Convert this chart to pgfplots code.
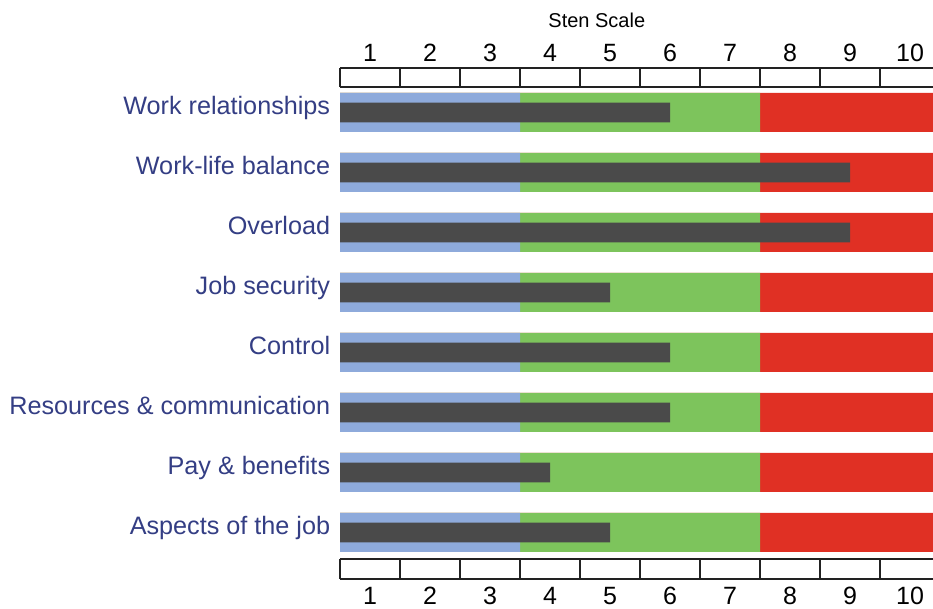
\documentclass[border=0pt]{standalone}
\usepackage{pgfplots}
\pgfplotsset{compat=1.18}
\usepackage{fontspec}
\setmainfont{Liberation Sans}
\definecolor{bandblue}{HTML}{8EAADB}
\definecolor{bandgreen}{HTML}{7DC45C}
\definecolor{bandred}{HTML}{E03024}
\definecolor{bardark}{HTML}{4A4A4A}
\definecolor{labblue}{HTML}{343E84}
\definecolor{rulecol}{HTML}{222222}
\begin{document}
\begin{tikzpicture}
\begin{axis}[
  name=ax,
  scale only axis,
  width=296.5pt, height=258pt,
  xmin=0.5, xmax=10.383,
  ymin=-0.78, ymax=7.82,
  y dir=reverse,
  clip mode=individual,
  axis line style={draw=none},
  tick style={draw=none},
  xtick={1,...,10},
  xticklabel pos=upper,
  xticklabel style={anchor=base, yshift=2pt, font=\fontsize{12.5}{14}\selectfont},
  ytick={0,...,7},
  yticklabels={Work relationships, Work-life balance, Overload, Job security, Control, Resources \& communication, Pay \& benefits, Aspects of the job},
  yticklabel style={anchor=base east, xshift=-1.4pt, yshift=-1.25pt, text=labblue, font=\fontsize{12.6}{14}\selectfont},
  /pgf/number format/assume math mode=true,
]
% background bands
\addplot[xbar, bar width=0.65, bar shift=0pt, fill=bandred, draw=none] coordinates {(10.5,0) (10.5,1) (10.5,2) (10.5,3) (10.5,4) (10.5,5) (10.5,6) (10.5,7)};
\addplot[xbar, bar width=0.65, bar shift=0pt, fill=bandgreen, draw=none] coordinates {(7.5,0) (7.5,1) (7.5,2) (7.5,3) (7.5,4) (7.5,5) (7.5,6) (7.5,7)};
\addplot[xbar, bar width=0.65, bar shift=0pt, fill=bandblue, draw=none] coordinates {(3.5,0) (3.5,1) (3.5,2) (3.5,3) (3.5,4) (3.5,5) (3.5,6) (3.5,7)};
% scores
\addplot[xbar, bar width=0.333, bar shift=0pt, fill=bardark, draw=none] coordinates {(6,0) (9,1) (9,2) (5,3) (6,4) (6,5) (4,6) (5,7)};
% rulers
\draw[rulecol, line width=0.6pt] (0.5,-0.742) -- (10.383,-0.742);
\draw[rulecol, line width=0.6pt] (0.5,-0.425) -- (10.383,-0.425);
\draw[rulecol, line width=0.6pt] (0.5,7.442) -- (10.383,7.442);
\draw[rulecol, line width=0.6pt] (0.5,7.775) -- (10.383,7.775);
\pgfplotsinvokeforeach{0.5,1.5,2.5,3.5,4.5,5.5,6.5,7.5,8.5,9.5}{
  \draw[rulecol, line width=0.6pt] (#1,-0.742) -- (#1,-0.425);
  \draw[rulecol, line width=0.6pt] (#1,7.442) -- (#1,7.775);
}
\pgfplotsinvokeforeach{1,...,10}{
  \node[anchor=base, inner sep=0pt, font=\fontsize{12.5}{14}\selectfont] at (#1,8.208) {#1};
}
\node[anchor=center, font=\fontsize{10}{12}\selectfont] at (4.78,-1.533) {Sten Scale};
\end{axis}
\pgfresetboundingbox
\path ([xshift=-170pt,yshift=-13.65pt]ax.south west) rectangle ([yshift=32.85pt]ax.north east);
\end{tikzpicture}
\end{document}
